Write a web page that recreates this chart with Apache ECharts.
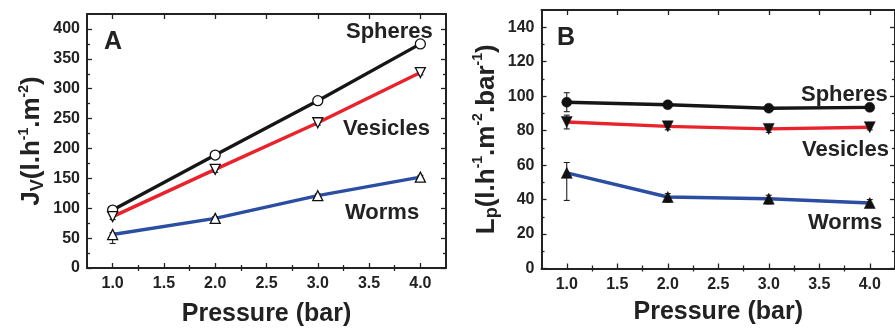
<!DOCTYPE html>
<html><head><meta charset="utf-8">
<script src="https://cdn.jsdelivr.net/npm/echarts@6/dist/echarts.min.js"></script>
<style>html,body{margin:0;padding:0;background:#fff}#c{width:895px;height:332px}</style>
</head><body><div id="c"></div>
<script>
// ---- data ----
var pressure = [1.0, 2.0, 3.0, 4.0];
// Panel A: Jv (l.h-1.m-2)
var jvSpheres  = [97, 189, 280, 375];
var jvVesicles = [86, 165, 243, 327];
var jvWorms    = [56, 83, 121, 152];
var jvSpheresLo  = [3, 3, 3, 3],  jvSpheresHi  = [3, 3, 3, 3];
var jvVesiclesLo = [5, 5, 4, 4],  jvVesiclesHi = [3, 3, 3, 3];
var jvWormsLo    = [15, 5, 5, 5], jvWormsHi    = [3, 3, 3, 3];
// Panel B: Lp (l.h-1.m-2.bar-1)
var lpSpheres  = [96.5, 95, 93, 93.5];
var lpVesicles = [85, 82.5, 81, 82];
var lpWorms    = [55.5, 41.5, 40.5, 38];
var lpSpheresLo  = [5.5, 1.5, 1.5, 1.5], lpSpheresHi  = [5.5, 1.5, 1.5, 1.5];
var lpVesiclesLo = [4, 2, 2, 1.5],       lpVesiclesHi = [4, 2, 2, 1.5];
var lpWormsLo    = [16, 3, 3, 2.5],      lpWormsHi    = [6, 2, 2, 2];
// ticks
var xMajor = [1.0, 1.5, 2.0, 2.5, 3.0, 3.5, 4.0];
var xMinor = [1.25, 1.75, 2.25, 2.75, 3.25, 3.75];
var yMajorA = [0, 50, 100, 150, 200, 250, 300, 350, 400];
var yMinorA = [25, 75, 125, 175, 225, 275, 325, 375];
var yMajorB = [0, 20, 40, 60, 80, 100, 120, 140];
var yMinorB = [10, 30, 50, 70, 90, 110, 130];

var FONT = '"Liberation Sans", Arial, sans-serif';
var INK = '#222';
var C_BLACK = '#161616', C_RED = '#e8232b', C_BLUE = '#2b4ea2';

function pairs(xs, ys){ return xs.map(function(x,i){ return [x, ys[i]]; }); }
function errData(xs, ys, lo, hi){ return xs.map(function(x,i){ return [x, ys[i]-lo[i], ys[i]+hi[i]]; }); }

var xAxes = [], yAxes = [];
function addAxes(g, yMin, yMax, yMaj, yMin2, yName, xGap){
  var lineOn = {show:true, onZero:false, lineStyle:{color:INK, width:2}};
  var lineOff = {show:false};
  function xa(pos, major, main){
    var o = {type:'value', gridIndex:g, position:pos, min:0.75, max:4.25,
      splitLine:{show:false}, axisLine: main ? lineOn : lineOff,
      axisTick:{show:true, inside:true, length: major ? 5 : 3, lineStyle:{color:INK, width:1.3},
        customValues: major ? xMajor : xMinor},
      axisLabel:{show:false}};
    if (main && pos === 'bottom') {
      o.axisLabel = {show:true, customValues:xMajor, margin:8, color:INK, fontFamily:FONT,
        fontWeight:'bold', fontSize:16, formatter:function(v){return v.toFixed(1);}};
      o.name = 'Pressure (bar)'; o.nameLocation = 'middle'; o.nameGap = xGap;
      o.nameTextStyle = {color:INK, fontFamily:FONT, fontWeight:'bold', fontSize:25};
    }
    return o;
  }
  function ya(pos, major, main){
    var o = {type:'value', gridIndex:g, position:pos, min:yMin, max:yMax,
      splitLine:{show:false}, axisLine: main ? lineOn : lineOff,
      axisTick:{show:true, inside:true, length: major ? 5 : 3, lineStyle:{color:INK, width:1.3},
        customValues: major ? yMaj : yMin2},
      axisLabel:{show:false}};
    if (main && pos === 'left') {
      o.axisLabel = {show:true, customValues:yMaj, margin:7, color:INK, fontFamily:FONT,
        fontWeight:'bold', fontSize:16};
      o.name = yName; o.nameLocation = 'middle'; o.nameGap = 40; o.nameRotate = 90;
      o.nameTextStyle = {color:INK, fontFamily:FONT, fontWeight:'bold', fontSize:26, lineHeight:30,
        rich:{
          m:{fontFamily:FONT, fontWeight:'bold', fontSize:26, lineHeight:30, color:INK},
          sub:{fontFamily:FONT, fontWeight:'bold', fontSize:18, lineHeight:18, verticalAlign:'bottom', color:INK},
          sup:{fontFamily:FONT, fontWeight:'bold', fontSize:14, lineHeight:14, verticalAlign:'top', color:INK}
        }};
    }
    return o;
  }
  var xi = xAxes.length, yi = yAxes.length;
  xAxes.push(xa('bottom', true, true), xa('bottom', false, false), xa('top', true, true), xa('top', false, false));
  yAxes.push(ya('left', true, true), ya('left', false, false), ya('right', true, true), ya('right', false, false));
  return {x: xi, y: yi};
}
var axA = addAxes(0, 0, 425, yMajorA, yMinorA,
  '{m|J}{sub|V}{m|(l.h}{sup|-1}{m|.m}{sup|-2}{m|)}', 34);
var axB = addAxes(1, 0, 150, yMajorB, yMinorB,
  '{m|L}{sub|p}{m|(l.h}{sup|-1}{m|.m}{sup|-2}{m|.bar}{sup|-1}{m|)}', 31);

function errSeries(ax, data){
  return {type:'custom', xAxisIndex:ax.x, yAxisIndex:ax.y, z:1, silent:true, data:data,
    renderItem:function(params, api){
      var x = api.value(0);
      var a = api.coord([x, api.value(1)]), b = api.coord([x, api.value(2)]);
      var st = {stroke:INK, lineWidth:1.1};
      return {type:'group', children:[
        {type:'line', shape:{x1:a[0], y1:a[1], x2:b[0], y2:b[1]}, style:st},
        {type:'line', shape:{x1:a[0]-3, y1:a[1], x2:a[0]+3, y2:a[1]}, style:st},
        {type:'line', shape:{x1:b[0]-3, y1:b[1], x2:b[0]+3, y2:b[1]}, style:st}
      ]};
    }};
}
function lineSeries(ax, data, color, symbol, rot, filled, size){
  return {type:'line', xAxisIndex:ax.x, yAxisIndex:ax.y, z:2, data:data, symbol:symbol, symbolSize:size,
    symbolRotate:rot, showAllSymbol:true, animation:false,
    lineStyle:{color:color, width:3.4},
    itemStyle: filled ? {color:'#111', borderColor:'#111', borderWidth:0.5}
                      : {color:'#fff', borderColor:'#111', borderWidth:1.3}};
}

var series = [
  errSeries(axA, errData(pressure, jvSpheres, jvSpheresLo, jvSpheresHi)),
  errSeries(axA, errData(pressure, jvVesicles, jvVesiclesLo, jvVesiclesHi)),
  errSeries(axA, errData(pressure, jvWorms, jvWormsLo, jvWormsHi)),
  lineSeries(axA, pairs(pressure, jvSpheres), C_BLACK, 'circle', 0, false, 10),
  lineSeries(axA, pairs(pressure, jvVesicles), C_RED, 'triangle', 180, false, 10),
  lineSeries(axA, pairs(pressure, jvWorms), C_BLUE, 'triangle', 0, false, 10),
  errSeries(axB, errData(pressure, lpSpheres, lpSpheresLo, lpSpheresHi)),
  errSeries(axB, errData(pressure, lpVesicles, lpVesiclesLo, lpVesiclesHi)),
  errSeries(axB, errData(pressure, lpWorms, lpWormsLo, lpWormsHi)),
  lineSeries(axB, pairs(pressure, lpSpheres), C_BLACK, 'circle', 0, true, 10),
  lineSeries(axB, pairs(pressure, lpVesicles), C_RED, 'triangle', 180, true, 11),
  lineSeries(axB, pairs(pressure, lpWorms), C_BLUE, 'triangle', 0, true, 11)
];

function txt(s, x, y, size){
  return {type:'text', x:x, y:y, z:10, style:{text:s, fill:INK, font:'bold '+size+'px '+FONT,
    align:'left', verticalAlign:'middle'}};
}
var chart = echarts.init(document.getElementById('c'), null, {renderer:'canvas'});
chart.setOption({
  animation:false,
  backgroundColor:'#fff',
  grid:[
    {left:87, top:14, width:359, height:259.5},
    {left:541.5, top:10, width:364, height:258.5}
  ],
  xAxis: xAxes, yAxis: yAxes, series: series,
  graphic:[
    txt('A', 104, 42, 25),
    txt('Spheres', 346, 32, 22),
    txt('Vesicles', 343, 129, 22),
    txt('Worms', 345, 213, 22),
    txt('B', 557, 38, 25),
    txt('Spheres', 801, 95, 22),
    txt('Vesicles', 802, 150, 22),
    txt('Worms', 808, 223, 22)
  ]
});
</script></body></html>
